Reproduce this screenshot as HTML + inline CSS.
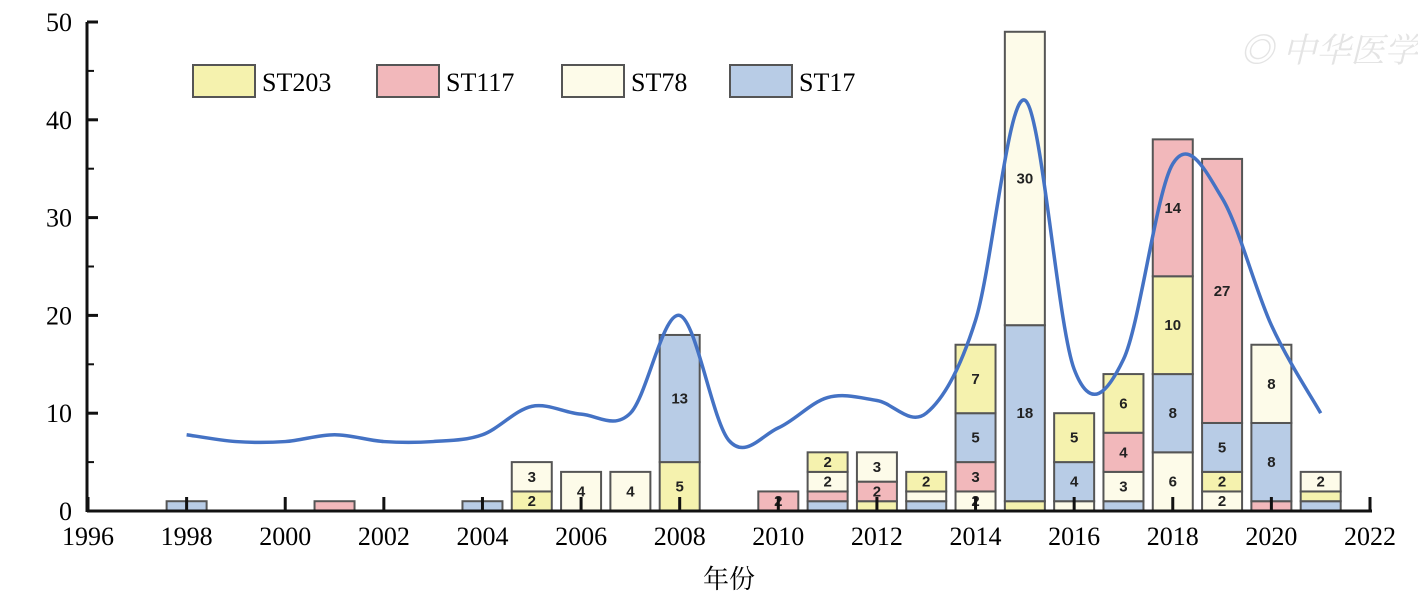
<!DOCTYPE html>
<html><head><meta charset="utf-8"><style>
body{margin:0;background:#fff;}
svg text{font-family:"Liberation Serif","Noto Serif CJK SC",serif;}
</style></head><body>
<svg id="chart" width="1418" height="608" xmlns="http://www.w3.org/2000/svg">
<g id="bars"></g>
<g id="axes"></g>
<g id="legend"></g>
<text x="1240" y="62" font-size="34" fill="#e4e4e4" font-style="italic">◎ 中华医学会</text>
<text x="729" y="588" font-size="26" text-anchor="middle">年份</text>
</svg>
<script>
const years=[1998,2001,2004,2005,2006,2007,2008,2010,2011,2012,2013,2014,2015,2016,2017,2018,2019,2020,2021];
const st17 =[1,0,1,0,0,0,13,0,1,0,1,5,18,4,1,8,5,8,1];
const st78 =[0,0,0,3,4,4,0,0,2,3,1,2,30,1,3,6,2,8,2];
const st117=[0,1,0,0,0,0,0,2,1,2,0,3,0,0,4,14,27,1,0];
const st203=[0,0,0,2,0,0,5,0,2,1,2,7,1,5,6,10,2,0,1];
const stackOrder=[[0],[2],[0],[3,1],[1],[1],[3,0],[2],[0,2,1,3],[3,2,1],[0,1,3],[1,2,0,3],[3,0,1],[1,0,3],[0,1,2,3],[1,0,3,2],[1,3,0,2],[2,0,1],[0,3,1]];
const lineYears=[1998,1999,2000,2001,2002,2003,2004,2005,2006,2007,2008,2009,2010,2011,2012,2013,2014,2015,2016,2017,2018,2019,2020,2021];
const lineVals=[7.8,7.1,7.1,7.8,7.1,7.1,7.8,10.7,9.9,10,20,7.2,8.5,11.6,11.3,10,19.5,42,14.5,15.5,35.5,32,19,10];
const yTicks=[0,10,20,30,40,50];
const xTicks=[1996,1998,2000,2002,2004,2006,2008,2010,2012,2014,2016,2018,2020,2022];
const names=["ST17","ST78","ST117","ST203"];
const colors=["#b8cce6","#fdfbe9","#f2b8bb","#f5f2ae"];
const series=[st17,st78,st117,st203];
const NS="http://www.w3.org/2000/svg";
const X=y=>88+(y-1996)*(1370-88)/26;
const Y=v=>511-v*(511-22)/50;
function mk(t,a,p){const e=document.createElementNS(NS,t);for(const k in a)e.setAttribute(k,a[k]);p.appendChild(e);return e;}
const bars=document.getElementById('bars'),axes=document.getElementById('axes'),leg=document.getElementById('legend');
years.forEach((yr,i)=>{let acc=0;stackOrder[i].forEach(s=>{const v=series[s][i];if(!v)return;
 const r=mk('rect',{x:X(yr)-20,y:Y(acc+v),width:40,height:Y(acc)-Y(acc+v),fill:colors[s],stroke:'#555','stroke-width':2},bars);
 
 
 if(v>=2 && (Y(acc)-Y(acc+v))>12){const t=mk('text',{x:X(yr),y:(Y(acc)+Y(acc+v))/2+5,'font-size':15,'font-weight':'bold','text-anchor':'middle',fill:'#222',style:'font-family:"Liberation Sans",sans-serif'},bars);t.textContent=v;
 
 }
 acc+=v;});});
let pts=lineYears.map((y,i)=>[X(y),Y(lineVals[i])]);
let d='M'+pts[0][0]+','+pts[0][1];
for(let i=0;i<pts.length-1;i++){const p0=pts[Math.max(0,i-1)],p1=pts[i],p2=pts[i+1],p3=pts[Math.min(pts.length-1,i+2)];
 d+=` C${p1[0]+(p2[0]-p0[0])/6},${p1[1]+(p2[1]-p0[1])/6} ${p2[0]-(p3[0]-p1[0])/6},${p2[1]-(p3[1]-p1[1])/6} ${p2[0]},${p2[1]}`;}
const ln=mk('path',{d:d,fill:'none',stroke:'#4472c4','stroke-width':3.5},bars);


mk('line',{x1:87,y1:22,x2:87,y2:512,stroke:'#111','stroke-width':3},axes);
mk('line',{x1:87,y1:511,x2:1372,y2:511,stroke:'#111','stroke-width':3},axes);
yTicks.forEach(v=>{mk('line',{x1:87,y1:Y(v),x2:98,y2:Y(v),stroke:'#111','stroke-width':3},axes);
 if(v<50)mk('line',{x1:87,y1:Y(v+5),x2:94,y2:Y(v+5),stroke:'#111','stroke-width':2},axes);
 const t=mk('text',{x:72,y:Y(v)+9,'font-size':26,'text-anchor':'end'},axes);t.textContent=v;
 
 });
xTicks.forEach(y=>{mk('line',{x1:X(y),y1:497,x2:X(y),y2:511,stroke:'#111','stroke-width':3},axes);
 const t=mk('text',{x:X(y),y:545,'font-size':26,'text-anchor':'middle'},axes);t.textContent=y;
 
 });
const legOrder=[3,2,1,0],legX=[193,377,562,730];
legOrder.forEach((s,i)=>{const r=mk('rect',{x:legX[i],y:65,width:62,height:32,fill:colors[s],stroke:'#555','stroke-width':2},leg);
 
 
 const t=mk('text',{x:legX[i]+69,y:91,'font-size':26},leg);t.textContent=names[s];
 
 });
</script>
</body></html>
